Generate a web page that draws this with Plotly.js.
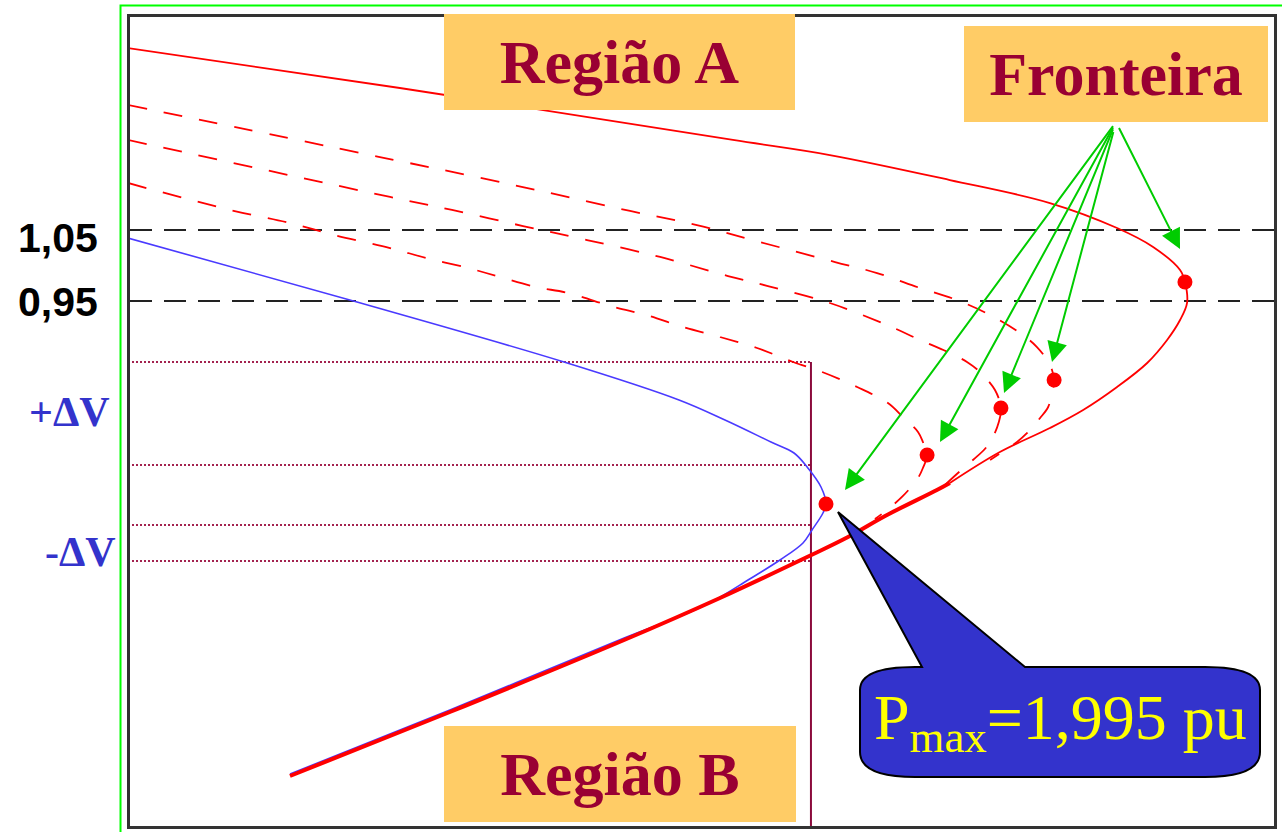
<!DOCTYPE html>
<html>
<head>
<meta charset="utf-8">
<script src="https://cdn.plot.ly/plotly-3.0.1.min.js"></script>
<style>
  html, body { margin: 0; padding: 0; background: #ffffff; }
  #chart { width: 1282px; height: 832px; }
</style>
</head>
<body>
<div id="chart"></div>
<script>
// ---------- data (P in pu, V in pu) ----------
const outerP = [0, 0.777, 1.729, 2.006, 2.349, 2.635, 2.827, 2.930, 3.007, 3.021, 3.027, 3.007, 2.970, 2.913, 2.827, 2.730, 2.635, 2.492, 2.349];
const outerV = [1.3063, 1.2500, 1.1768, 1.1556, 1.1204, 1.0880, 1.0528, 1.0261, 0.9937, 0.9768, 0.9472, 0.9232, 0.8951, 0.8627, 0.8289, 0.7965, 0.7711, 0.7373, 0.6937];

const dash1P = [0, 0.720, 0.969, 1.206, 1.435, 1.626, 1.806, 2.021, 2.141, 2.264, 2.369, 2.464, 2.550, 2.598, 2.627, 2.641, 2.647, 2.641, 2.630, 2.607, 2.570, 2.541, 2.498, 2.464];
const dash1V = [1.2261, 1.1528, 1.1275, 1.1021, 1.0768, 1.0570, 1.0331, 1.0049, 0.9894, 0.9683, 0.9514, 0.9303, 0.9049, 0.8852, 0.8669, 0.8528, 0.8387, 0.8204, 0.8007, 0.7852, 0.7641, 0.7514, 0.7373, 0.7261];

const dash2P = [0, 0.749, 0.926, 1.129, 1.312, 1.521, 1.715, 1.829, 2.006, 2.169, 2.264, 2.349, 2.398, 2.435, 2.478, 2.495, 2.489, 2.472, 2.449, 2.415, 2.369, 2.335];
const dash2V = [1.1768, 1.0965, 1.0782, 1.0556, 1.0359, 1.0120, 0.9852, 0.9711, 0.9472, 0.9162, 0.8951, 0.8768, 0.8641, 0.8500, 0.8246, 0.7993, 0.7796, 0.7585, 0.7415, 0.7261, 0.7063, 0.6908];

const dash3P = [0, 0.292, 0.463, 0.589, 0.749, 0.852, 0.972, 1.063, 1.166, 1.258, 1.389, 1.481, 1.586, 1.692, 1.798, 1.901, 1.984, 2.084, 2.172, 2.215, 2.258, 2.272, 2.284, 2.272, 2.258, 2.215, 2.169, 2.135];
const dash3V = [1.1162, 1.0782, 1.0599, 1.0430, 1.0246, 1.0106, 0.9965, 0.9838, 0.9697, 0.9613, 0.9415, 0.9303, 0.9134, 0.8993, 0.8838, 0.8641, 0.8500, 0.8289, 0.8063, 0.7866, 0.7655, 0.7514, 0.7331, 0.7148, 0.7007, 0.6754, 0.6556, 0.6430];

const blueP = [0, 0.6545, 1.2462, 1.5749, 1.7063, 1.8378, 1.9036, 1.941, 1.9807, 1.995, 1.9864, 1.955, 1.9293, 1.8635, 1.7721, 1.6778, 1.6006, 1.418, 0.920, 0.463];
const blueV = [1.0387, 0.9486, 0.8641, 0.8106, 0.7824, 0.7514, 0.7359, 0.7162, 0.6880, 0.6641, 0.6514, 0.6275, 0.6092, 0.5852, 0.5570, 0.5289, 0.5106, 0.4754, 0.3739, 0.2838];

const commonP = [2.349, 2.312, 2.164, 2.058, 1.941, 1.692, 1.418, 0.920, 0.463];
const commonV = [0.6937, 0.6838, 0.6472, 0.6176, 0.5894, 0.5317, 0.4725, 0.3711, 0.2810];

const frontierP = [3.021, 2.647, 2.495, 2.284, 1.995];
const frontierV = [0.9768, 0.8387, 0.7993, 0.7331, 0.6641];

const limitV = [1.05, 0.95];
const limitLabels = ['1,05', '0,95'];
const deltaV = [0.8641, 0.7190, 0.6345, 0.5838];
const deltaLabels = ['+ΔV', '-ΔV'];
const pLimit = 1.952;
const pmaxText = 'P<sub>max</sub>=1,995 pu';
const regionLabels = ['Região A', 'Região B', 'Fronteira'];
const arrowTail = [2.8239, 1.2021];
const arrowTipP = [3.0068, 2.6410, 2.5038, 2.3209, 2.0493];
const arrowTipV = [1.0232, 0.8641, 0.8204, 0.7514, 0.6838];

// ---------- traces ----------
const RED = '#ff0000';
const DASH = '19px,17px';
const SM = 1.0;
const traces = [
  {x: blueP, y: blueV, mode: 'lines', line: {color: '#4a3aff', width: 1.6, shape: 'spline', smoothing: SM}},
  {x: outerP, y: outerV, mode: 'lines', line: {color: RED, width: 1.8, shape: 'spline', smoothing: SM}},
  {x: dash1P, y: dash1V, mode: 'lines', line: {color: RED, width: 1.8, dash: DASH, shape: 'spline', smoothing: SM}},
  {x: dash2P, y: dash2V, mode: 'lines', line: {color: RED, width: 1.8, dash: DASH, shape: 'spline', smoothing: SM}},
  {x: dash3P, y: dash3V, mode: 'lines', line: {color: RED, width: 1.8, dash: DASH, shape: 'spline', smoothing: SM}},
  {x: commonP, y: commonV, mode: 'lines', line: {color: RED, width: 4, shape: 'spline', smoothing: SM}},
  {x: frontierP, y: frontierV, mode: 'markers', marker: {color: RED, size: 15, line: {width: 0}}}
];

// ---------- shapes ----------
const shapes = [];
limitV.forEach(v => shapes.push({type: 'line', xref: 'paper', x0: 0, x1: 1, yref: 'y', y0: v, y1: v,
  line: {color: '#222222', width: 2, dash: '22px,12px'}, layer: 'below'}));
deltaV.forEach(v => shapes.push({type: 'line', xref: 'x', x0: 0, x1: pLimit, yref: 'y', y0: v, y1: v,
  line: {color: '#a3224f', width: 2, dash: '2px,2px'}, layer: 'below'}));
shapes.push({type: 'line', xref: 'x', x0: pLimit, x1: pLimit, yref: 'y', y0: deltaV[0], y1: 0.2106,
  line: {color: '#8b0a3c', width: 2}, layer: 'below'});
// green outer frame
shapes.push({type: 'rect', xref: 'paper', yref: 'paper', x0: -0.0083, x1: 1.0087, y0: -0.0111, y1: 1.0142,
  line: {color: '#00ff00', width: 2}, fillcolor: 'rgba(0,0,0,0)', layer: 'above'});
// callout bubble
shapes.push({type: 'path', xref: 'paper', yref: 'paper', layer: 'above',
  path: 'M 0.63811,0.16811 Q 0.63811,0.19654 0.68619,0.19654 L 0.69231,0.19654 L 0.61888,0.38813 L 0.78234,0.19654 L 0.93969,0.19654 Q 0.98776,0.19654 0.98776,0.16811 L 0.98776,0.09147 Q 0.98776,0.06057 0.93969,0.06057 L 0.68619,0.06057 Q 0.63811,0.06057 0.63811,0.09147 Z',
  fillcolor: '#3333cc', line: {color: '#000000', width: 2}});

// ---------- annotations ----------
const SERIF = 'Liberation Serif, Times New Roman, serif';
const SANS = 'Liberation Sans, Arial, sans-serif';
const annotations = [];
const regionBox = (txt, x, y, w, h) => ({text: '<b>' + txt + '</b>', xref: 'paper', yref: 'paper', x: x, y: y,
  xanchor: 'center', yanchor: 'middle', width: w, height: h, showarrow: false, bgcolor: '#ffcc66',
  borderpad: 0, borderwidth: 0, font: {family: SERIF, size: 62, color: '#990033'}});
annotations.push(regionBox(regionLabels[0], 0.42788, 0.94438, 351, 96));
annotations.push(regionBox(regionLabels[1], 0.42832, 0.06428, 352, 96));
annotations.push(regionBox(regionLabels[2], 0.86189, 0.92954, 304, 96));

annotations.push({text: pmaxText, xref: 'paper', yref: 'paper', x: 0.81294, y: 0.12855, xanchor: 'center', yanchor: 'middle',
  showarrow: false, font: {family: SERIF, size: 64, color: '#ffff00'}});

limitV.forEach((v, i) => annotations.push({text: '<b>' + limitLabels[i] + '</b>', xref: 'paper', yref: 'y', x: -0.02622, y: v,
  yshift: i === 0 ? -8 : -1, xanchor: 'right', yanchor: 'middle', showarrow: false,
  font: {family: SANS, size: 41, color: '#000000'}}));
annotations.push({text: '<b>' + deltaLabels[0] + '</b>', xref: 'paper', yref: 'paper', x: -0.01573, y: 0.51174,
  xanchor: 'right', yanchor: 'middle', showarrow: false, font: {family: SERIF, size: 42, color: '#3333cc'}});
annotations.push({text: '<b>' + deltaLabels[1] + '</b>', xref: 'paper', yref: 'paper', x: -0.01049, y: 0.33869,
  xanchor: 'right', yanchor: 'middle', showarrow: false, font: {family: SERIF, size: 42, color: '#3333cc'}});

arrowTipP.forEach((p, i) => annotations.push({text: ' ', xref: 'x', yref: 'y', x: p, y: arrowTipV[i],
  axref: 'x', ayref: 'y', ax: arrowTail[0], ay: arrowTail[1], showarrow: true, arrowhead: 2, arrowsize: 2,
  arrowwidth: 2, arrowcolor: '#00cc00', standoff: 0, startstandoff: 0}));

const axisCommon = {showgrid: false, zeroline: false, showticklabels: false, ticks: '',
  showline: true, mirror: true, linecolor: '#333333', linewidth: 3, fixedrange: true};

const layout = {
  width: 1282, height: 832,
  margin: {l: 130, r: 8, t: 17, b: 6, pad: 0},
  paper_bgcolor: '#ffffff', plot_bgcolor: '#ffffff',
  showlegend: false,
  xaxis: Object.assign({range: [0.005716, 3.2755]}, axisCommon),
  yaxis: Object.assign({range: [0.21056, 1.35]}, axisCommon),
  shapes: shapes,
  annotations: annotations
};

Plotly.newPlot('chart', traces, layout, {displayModeBar: false, staticPlot: true});
</script>
</body>
</html>
